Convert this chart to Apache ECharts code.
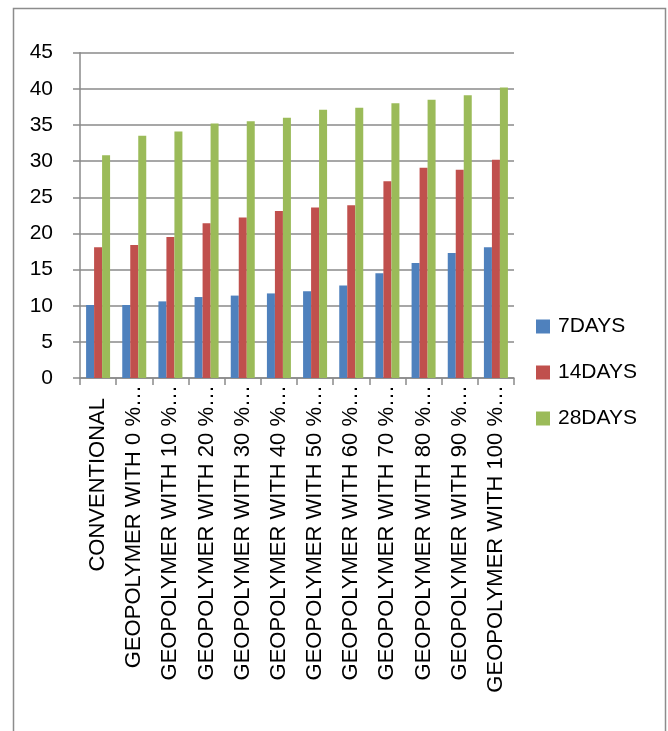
<!DOCTYPE html>
<html>
<head>
<meta charset="utf-8">
<script src="https://cdn.jsdelivr.net/npm/echarts@6/dist/echarts.min.js"></script>
<style>
  html, body { margin: 0; padding: 0; background: #fff; }
  #chart { width: 668px; height: 731px; }
</style>
</head>
<body>
<div id="chart"></div>
<script>
// Compressive strength by mix and curing age
const categories = [
  'CONVENTIONAL',
  'GEOPOLYMER WITH 0 %…',
  'GEOPOLYMER WITH 10 %…',
  'GEOPOLYMER WITH 20 %…',
  'GEOPOLYMER WITH 30 %…',
  'GEOPOLYMER WITH 40 %…',
  'GEOPOLYMER WITH 50 %…',
  'GEOPOLYMER WITH 60 %…',
  'GEOPOLYMER WITH 70 %…',
  'GEOPOLYMER WITH 80 %…',
  'GEOPOLYMER WITH 90 %…',
  'GEOPOLYMER WITH 100 %…'
];
const days7  = [10.1, 10.1, 10.6, 11.2, 11.4, 11.7, 12.0, 12.8, 14.5, 15.9, 17.3, 18.1];
const days14 = [18.1, 18.4, 19.5, 21.4, 22.2, 23.1, 23.6, 23.9, 27.2, 29.1, 28.8, 30.2];
const days28 = [30.8, 33.5, 34.1, 35.2, 35.5, 36.0, 37.1, 37.4, 38.0, 38.5, 39.1, 40.2];
const seriesNames = ['7DAYS', '14DAYS', '28DAYS'];
const colors = ['#4F81BD', '#C0504D', '#9BBB59'];

const font = '"Liberation Sans", Arial, sans-serif';
const gridColor = '#8a8a8a';

// the first (short) label sits a little further from the axis
const categoryData = categories.map((c, i) =>
  i === 0 ? { value: c, textStyle: { padding: [0, 13, 0, 0] } } : c
);

const chart = echarts.init(document.getElementById('chart'), null, { renderer: 'canvas' });

chart.setOption({
  animation: false,
  backgroundColor: '#ffffff',
  color: colors,
  textStyle: { fontFamily: font, color: '#000' },
  graphic: [{
    type: 'rect',
    shape: { x: 13.5, y: 8.5, width: 652, height: 760 },
    style: { fill: 'none', stroke: '#8c8c8c', lineWidth: 1.5 },
    silent: true
  }],
  grid: { left: 80, right: 154, top: 52.7, bottom: 353, containLabel: false },
  legend: {
    orient: 'vertical',
    left: 531,
    top: 311,
    itemWidth: 14,
    itemHeight: 14,
    itemGap: 25,
    icon: 'rect',
    textStyle: { fontFamily: font, fontSize: 21, color: '#000', padding: [0, 0, 0, 3] },
    data: seriesNames
  },
  xAxis: {
    type: 'category',
    data: categoryData,
    boundaryGap: true,
    axisLine: { show: true, lineStyle: { color: gridColor, width: 1.5 } },
    axisTick: { show: true, length: 7, lineStyle: { color: gridColor, width: 1.5 } },
    axisLabel: {
      rotate: 90,
      interval: 0,
      margin: 7,
      fontFamily: font,
      fontSize: 22,
      color: '#000'
    },
    splitLine: { show: false }
  },
  yAxis: {
    type: 'value',
    min: 0,
    max: 45,
    interval: 5,
    axisLine: { show: true, lineStyle: { color: gridColor, width: 1.5 } },
    axisTick: { show: true, length: 7, inside: false, lineStyle: { color: gridColor, width: 1.5 } },
    axisLabel: { margin: 27, fontFamily: font, fontSize: 21, color: '#000' },
    splitLine: { show: true, lineStyle: { color: gridColor, width: 1.5 } }
  },
  series: [
    { name: seriesNames[0], type: 'bar', data: days7,  barWidth: 8, barGap: '0%' },
    { name: seriesNames[1], type: 'bar', data: days14, barWidth: 8, barGap: '0%' },
    { name: seriesNames[2], type: 'bar', data: days28, barWidth: 8, barGap: '0%' }
  ]
});
</script>
</body>
</html>
